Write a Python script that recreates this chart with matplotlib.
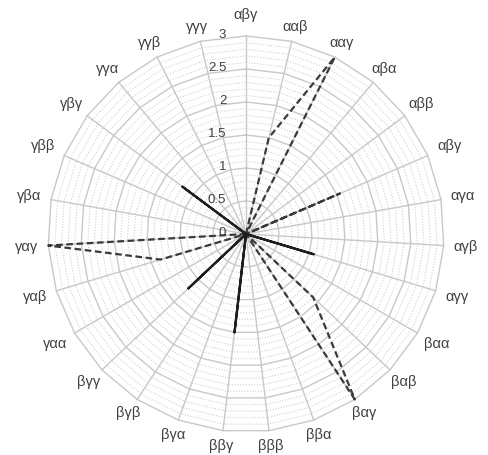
import numpy as np
import matplotlib
matplotlib.use("Agg")
import matplotlib.pyplot as plt

plt.rcParams['font.family'] = ['Liberation Sans', 'DejaVu Sans']

# categories clockwise from the top
categories = ['αβγ', 'ααβ', 'ααγ', 'αβα', 'αββ', 'αβγ', 'αγα', 'αγβ', 'αγγ',
              'βαα', 'βαβ', 'βαγ', 'ββα', 'βββ', 'ββγ', 'βγα', 'βγβ', 'βγγ',
              'γαα', 'γαβ', 'γαγ', 'γβα', 'γββ', 'γβγ', 'γγα', 'γγβ', 'γγγ']

# dashed series
series_dashed = [0, 1.5, 3.0, 0, 0, 1.55, 0, 0, 0,
                 0, 1.4, 3.0, 0, 0, 0, 0, 0, 0,
                 0, 1.35, 3.0, 0, 0, 0, 0, 0, 0]
# solid series
series_solid = [0, 0, 0, 0, 0, 0, 0, 0, 1.07,
                0, 0, 0, 0, 0, 1.5, 0, 0, 1.2,
                0, 0, 0, 0, 0, 1.2, 0, 0, 0]

ticks = [0, 0.5, 1, 1.5, 2, 2.5, 3]
tick_labels = ['0', '0.5', '1', '1.5', '2', '2.5', '3']
rmax = 3.0

n = len(categories)
theta = 2 * np.pi * np.arange(n) / n

def to_xy(r, th):
    return r * np.sin(th), r * np.cos(th)

W, H = 488, 455
cx, cy = 246, 234          # centre in pixels
scale = 198 / rmax          # pixels per unit

fig = plt.figure(figsize=(W / 100, H / 100), dpi=100)
ax = fig.add_axes([0, 0, 1, 1])
ax.set_xlim(-cx / scale, (W - cx) / scale)
ax.set_ylim(-(H - cy) / scale, cy / scale)
ax.axis('off')

closed = np.append(theta, theta[0])

# minor grid (dotted polygons)
for r in np.arange(0.1, rmax + 0.001, 0.1):
    if abs(r * 2 - round(r * 2)) < 1e-6:
        continue
    x, y = to_xy(r, closed)
    ax.plot(x, y, color='#d0d0d0', lw=0.8, ls=(0, (1, 1.5)), zorder=1)

# major grid
for r in ticks[1:]:
    x, y = to_xy(r, closed)
    ax.plot(x, y, color='#c8c8c8', lw=1.0, zorder=2)

# spokes
for th in theta:
    x, y = to_xy(np.array([0, rmax]), th)
    ax.plot(x, y, color='#c8c8c8', lw=1.0, zorder=2)

# series
x, y = to_xy(np.append(series_dashed, series_dashed[0]), closed)
ax.plot(x, y, color='#3a3a3a', lw=1.6, ls=(0, (3, 1.6)), zorder=4)
x, y = to_xy(np.append(series_solid, series_solid[0]), closed)
ax.plot(x, y, color='#1e1e1e', lw=1.6, zorder=5)

# radial tick labels
for v, lab in zip(ticks, tick_labels):
    ax.text(-0.30, v + 0.02, lab, ha='right', va='center', fontsize=9.5,
            color='#404040', zorder=6)

# category labels: box kept a small gap outside the outer ring
half_w, half_h, gap = 14, 7, 8
for i, (th, lab) in enumerate(zip(theta, categories)):
    s, c = abs(np.sin(th)), abs(np.cos(th))
    ext = min(half_w / s if s > 1e-6 else 1e9, half_h / c if c > 1e-6 else 1e9)
    rpx = 198 + gap + ext + (6 if i == 0 else 0)
    x, y = to_xy(rpx / scale, th)
    ax.text(x, y, lab, ha='center', va='center', fontsize=10.5, color='#404040')

fig.savefig('out.png', dpi=100)
